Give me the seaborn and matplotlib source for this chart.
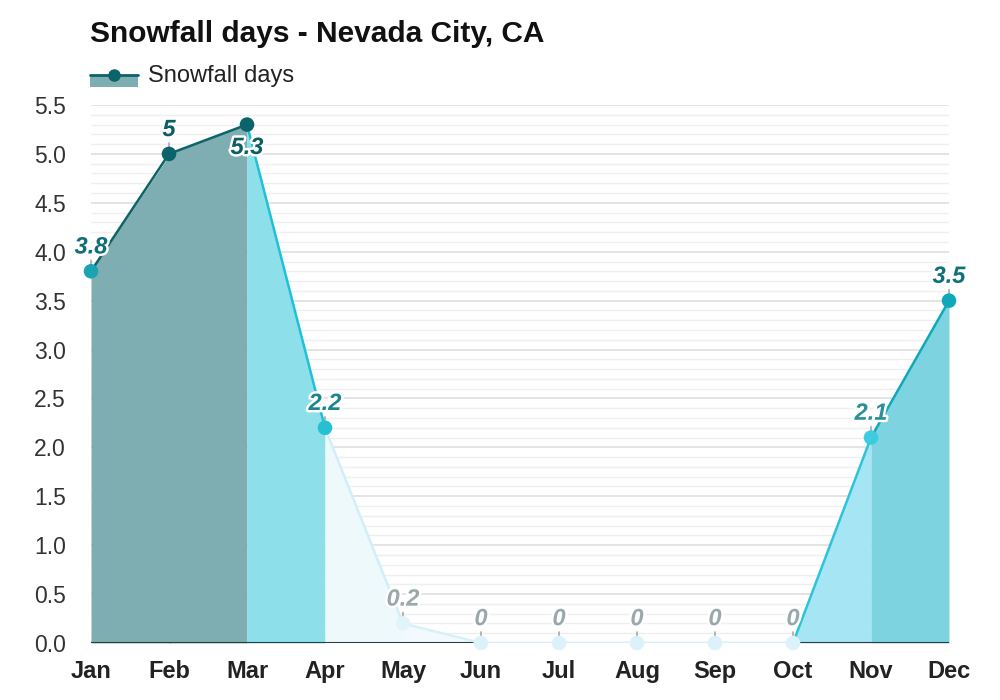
import matplotlib
matplotlib.use("Agg")
import matplotlib.pyplot as plt
import matplotlib.patheffects as pe
from matplotlib.lines import Line2D
from matplotlib.patches import Rectangle
import seaborn as sns
import pandas as pd
import numpy as np

months = ["Jan", "Feb", "Mar", "Apr", "May", "Jun", "Jul", "Aug", "Sep", "Oct", "Nov", "Dec"]
snow_days = [3.8, 5, 5.3, 2.2, 0.2, 0, 0, 0, 0, 0, 2.1, 3.5]
value_labels = ["3.8", "5", "5.3", "2.2", "0.2", "0", "0", "0", "0", "0", "2.1", "3.5"]
yticks = [0.0, 0.5, 1.0, 1.5, 2.0, 2.5, 3.0, 3.5, 4.0, 4.5, 5.0, 5.5]

# per-segment (between month i and i+1) colours
seg_line_colors = ["#0b6469", "#0b6469", "#1ec1d6", "#d2eff8", "#d6f1fa", "#d6f1fa",
                   "#d6f1fa", "#d6f1fa", "#d6f1fa", "#2cc4db", "#10a9b9"]
seg_fill_colors = ["#7eaeb1", "#7eaeb1", "#8ddfe9", "#eef9fc", "#f2fafd", "#ffffff",
                   "#ffffff", "#ffffff", "#ffffff", "#a6e5f3", "#7dd3e0"]
point_colors = ["#1aa3b0", "#0b6469", "#0b6469", "#26c0d3", "#e0f4fa", "#dcf2fb",
                "#dcf2fb", "#dcf2fb", "#dcf2fb", "#dcf2fb", "#3ccbe0", "#10a7b8"]
label_colors = ["#0f6f78", "#0b5e63", "#0b5e63", "#1a8490", "#9aa8aa", "#9aa8aa",
                "#9aa8aa", "#9aa8aa", "#9aa8aa", "#9aa8aa", "#2a8f98", "#10707a"]

sns.set_theme(style="white")
plt.rcParams["font.family"] = ["Liberation Sans", "DejaVu Sans"]

fig = plt.figure(figsize=(10, 7), dpi=100)
ax = fig.add_axes([0.091, 57 / 700, 0.858, 538 / 700])

x = np.arange(len(months))
df = pd.DataFrame({"x": x, "y": snow_days, "month": months})

# gridlines
ax.set_ylim(0, 5.5)
ax.set_xlim(0, 11)
for v in np.round(np.arange(0, 5.51, 0.1), 2):
    major = abs(v * 2 - round(v * 2)) < 1e-6
    ax.axhline(v, color="#dcdcdc" if major else "#efeff2", lw=1.1 if major else 1.0, zorder=0)

# filled areas
for i in range(len(x) - 1):
    same_next = i + 1 < len(x) - 1 and seg_fill_colors[i + 1] == seg_fill_colors[i]
    xr = x[i + 1] + (0.02 if same_next else 0)
    yr = snow_days[i + 1] + (snow_days[i + 2] - snow_days[i + 1]) * 0.02 if same_next else snow_days[i + 1]
    ax.fill_between([x[i], xr], [snow_days[i], yr], 0,
                    color=seg_fill_colors[i], linewidth=0, zorder=1)

# bottom axis line
ax.plot([0, 11], [0, 0], color="#2b3d42", lw=1.5, zorder=2, solid_capstyle="butt")

# segment lines
for i in range(len(x) - 1):
    seg = df.iloc[i:i + 2]
    sns.lineplot(data=seg, x="x", y="y", ax=ax, color=seg_line_colors[i],
                 lw=1.8 if i not in (5, 6, 7, 8) else 2.2, zorder=3, legend=False,
                 estimator=None, sort=False)

# points
sns.scatterplot(data=df, x="x", y="y", hue="month", palette=point_colors, ax=ax,
                s=110, edgecolor="none", legend=False, zorder=5, clip_on=False)

# value labels
vmax = max(snow_days)
for i, (v, lab) in enumerate(zip(snow_days, value_labels)):
    if v == vmax:
        ax.annotate(lab, (x[i], v), xytext=(0, -16.5), textcoords="offset points",
                    ha="center", va="center", fontsize=17, fontweight="bold",
                    fontstyle="italic", color=label_colors[i], zorder=6,
                    path_effects=[pe.withStroke(linewidth=3.5, foreground="white")],
                    annotation_clip=False)
    else:
        ax.annotate("", (x[i], v), xytext=(0, 8), textcoords="offset points",
                    arrowprops=dict(arrowstyle="-", color="#9a9a9a", lw=1,
                                    shrinkA=0, shrinkB=4), zorder=4,
                    annotation_clip=False)
        ax.annotate(lab, (x[i], v), xytext=(0, 17.5), textcoords="offset points",
                    ha="center", va="center", fontsize=17, fontweight="bold",
                    fontstyle="italic", color=label_colors[i], zorder=6,
                    path_effects=[pe.withStroke(linewidth=3.5, foreground="white")],
                    annotation_clip=False)

ax.set_xticks(x)
ax.set_xticklabels(months, fontsize=17, fontweight="bold", color="#222222")
ax.set_yticks(yticks)
ax.set_yticklabels([f"{t:.1f}" for t in yticks], fontsize=16.5, color="#333333")
ax.tick_params(axis="x", length=0, pad=12)
ax.tick_params(axis="y", length=0, pad=18)
ax.set_xlabel("")
ax.set_ylabel("")
for s in ax.spines.values():
    s.set_visible(False)

# title
fig.text(0.09, 1 - 42 / 700, "Snowfall days - Nevada City, CA", fontsize=21.5,
         fontweight="bold", color="#111111", ha="left", va="baseline")

# legend
fig.patches.append(Rectangle((90 / 1000, 1 - 87 / 700), 48 / 1000, 12 / 700,
                             transform=fig.transFigure, facecolor="#7eaeb1",
                             edgecolor="none"))
fig.lines.append(Line2D([90 / 1000, 138 / 1000], [1 - 75 / 700, 1 - 75 / 700],
                        transform=fig.transFigure, color="#0b6469", lw=2))
fig.lines.append(Line2D([114 / 1000], [1 - 75 / 700], transform=fig.transFigure,
                        color="#0b6469", marker="o", markersize=8, lw=0))
fig.text(148 / 1000, 1 - 82 / 700, "Snowfall days", fontsize=17, color="#222222",
         ha="left", va="baseline")

fig.savefig("out.png", dpi=100, facecolor="white")
